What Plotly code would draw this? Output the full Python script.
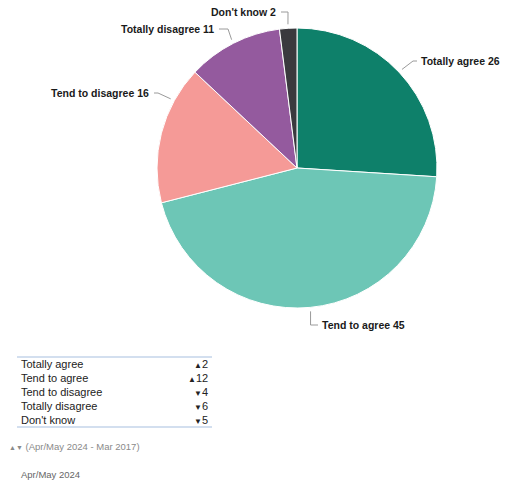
import math
import plotly.graph_objects as go

# ---- data ----
categories = ["Totally agree", "Tend to agree", "Tend to disagree", "Totally disagree", "Don't know"]
values = [26, 45, 16, 11, 2]
changes = [2, 12, -4, -6, -5]
colors = ["#0e806a", "#6dc6b6", "#f59a97", "#945a9e", "#3a3a3e"]
footnote = "(Apr/May 2024 - Mar 2017)"
period = "Apr/May 2024"

W, H = 507, 482
CX, CY, R = 297, 168, 140


def px(x):
    return x / W


def py(y):
    return 1 - y / H


fig = go.Figure()
fig.add_trace(go.Pie(
    labels=categories, values=values, sort=False, direction="clockwise", rotation=0,
    marker=dict(colors=colors, line=dict(color="white", width=1)),
    textinfo="none", hoverinfo="label+value", showlegend=False,
    domain=dict(x=[px(CX - R), px(CX + R)], y=[py(CY + R), py(CY - R)]),
))

# label layout: (side, text x, text y, elbow x, elbow y, anchor angle override)
label_layout = [
    ("left", 419, 61, 413, 61, None),
    ("left", 320, 325, None, 325, None),
    ("right", 151, 93, 158, 93, 298.7),
    ("right", 216, 29, 228, 29, None),
    ("right", 278, 12, 288, 12, None),
]

total = sum(values)
cum = 0
shapes = []
annotations = []
FONT = "Liberation Sans, Arial, sans-serif"
for i, (cat, v) in enumerate(zip(categories, values)):
    mid = (cum + v / 2) / total * 360
    cum += v
    side, tx, ty, ex, ey, override = label_layout[i]
    ang = math.radians(override if override is not None else mid)
    ax = CX + (R + 4) * math.sin(ang)
    ay = CY - (R + 4) * math.cos(ang)
    if ex is None:
        ex = ax
    endx = tx - 2 if side == "left" else tx + 3
    shapes.append(dict(
        type="path", xref="paper", yref="paper",
        path=f"M {px(ax)},{py(ay)} L {px(ex)},{py(ey)} L {px(endx)},{py(ey)}",
        line=dict(color="#9a9a9a", width=1),
    ))
    annotations.append(dict(
        x=px(tx), y=py(ty), xref="paper", yref="paper",
        xanchor="left" if side == "left" else "right", yanchor="middle",
        text=f"<b>{cat} {v}</b>", showarrow=False,
        font=dict(family=FONT, size=10.5, color="#1a1a1a"),
    ))

# table
TOP, ROW = 357, 14
shapes.append(dict(type="line", xref="paper", yref="paper", x0=px(17), x1=px(212),
                   y0=py(TOP), y1=py(TOP), line=dict(color="#c5d5ea", width=1.5)))
shapes.append(dict(type="line", xref="paper", yref="paper", x0=px(17), x1=px(212),
                   y0=py(TOP + ROW * len(categories)), y1=py(TOP + ROW * len(categories)),
                   line=dict(color="#c5d5ea", width=1.5)))
for i, (cat, ch) in enumerate(zip(categories, changes)):
    yc = TOP + 7 + ROW * i
    annotations.append(dict(
        x=px(19), y=py(yc), xref="paper", yref="paper", xanchor="left", yanchor="middle",
        text=cat, showarrow=False,
        font=dict(family=FONT, size=11, color="#222222"),
    ))
    tri = "▲" if ch > 0 else "▼"
    annotations.append(dict(
        x=px(210), y=py(yc), xref="paper", yref="paper", xanchor="right", yanchor="middle",
        text=f"<span style='font-size:8px'>{tri}</span>{abs(ch)}", showarrow=False,
        font=dict(family=FONT, size=11, color="#222222"),
    ))

annotations.append(dict(
    x=px(7), y=py(446), xref="paper", yref="paper", xanchor="left", yanchor="middle",
    text=f"<span style='font-size:7px'>▲▼</span> {footnote}", showarrow=False,
    font=dict(family=FONT, size=9.5, color="#8a8a8a"),
))
annotations.append(dict(
    x=px(19), y=py(474), xref="paper", yref="paper", xanchor="left", yanchor="middle",
    text=period, showarrow=False,
    font=dict(family=FONT, size=9.5, color="#666666"),
))

fig.update_layout(
    width=W, height=H, margin=dict(l=0, r=0, t=0, b=0),
    paper_bgcolor="white", plot_bgcolor="white",
    shapes=shapes, annotations=annotations,
)
fig.write_html(
    "out.html",
    config={"displayModeBar": False},
    post_script="document.body.style.margin='0';document.body.style.overflow='hidden';",
)
